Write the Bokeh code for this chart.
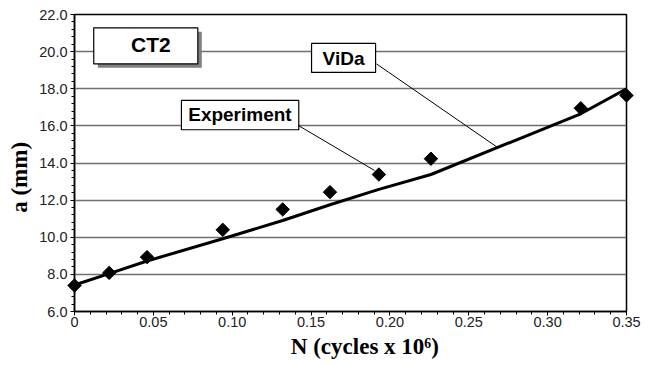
import math
from bokeh.plotting import figure
from bokeh.models import (Range1d, FixedTicker, CustomJSTickFormatter, Label,
                          ColumnDataSource)
from bokeh.embed import file_html
from bokeh.resources import INLINE

# ---- data ----
n_exp = [0.0, 0.022, 0.046, 0.094, 0.132, 0.162, 0.193, 0.226, 0.321, 0.350]
a_exp = [7.40, 8.08, 8.93, 10.40, 11.50, 12.43, 13.38, 14.23, 16.95, 17.64]

n_vida = [0.0, 0.022, 0.046, 0.094, 0.132, 0.162, 0.193, 0.226, 0.321, 0.350]
a_vida = [7.43, 8.04, 8.72, 9.92, 10.90, 11.75, 12.58, 13.38, 16.65, 18.00]

x_ticks = [0.0, 0.05, 0.10, 0.15, 0.20, 0.25, 0.30, 0.35]
y_ticks = [6.0, 8.0, 10.0, 12.0, 14.0, 16.0, 18.0, 20.0, 22.0]

x_title = "N (cycles x 10⁶)"
y_title = "a (mm)"

TICK_FONT = "Liberation Sans"
BOX_FONT = "Liberation Sans"
AXIS_FONT = "Liberation Serif"
NB = "\u00a0"

p = figure(width=657, height=365, output_backend="svg", toolbar_location=None,
           x_range=Range1d(0, 0.35), y_range=Range1d(6, 22),
           min_border_left=74, min_border_right=31, min_border_top=14,
           min_border_bottom=54)
p.background_fill_color = "white"
p.border_fill_color = "white"
p.outline_line_color = "black"
p.outline_line_width = 1.5

# axes
p.xaxis.ticker = FixedTicker(ticks=x_ticks,
                             minor_ticks=[i * 0.01 for i in range(0, 36)])
p.yaxis.ticker = FixedTicker(ticks=y_ticks,
                             minor_ticks=[6 + i * 0.4 for i in range(0, 41)])
p.xaxis.formatter = CustomJSTickFormatter(
    code="return tick == 0 ? '0' : tick.toFixed(2);")
p.yaxis.formatter = CustomJSTickFormatter(code="return tick.toFixed(1);")
for ax in (p.xaxis, p.yaxis):
    ax.axis_line_color = "black"
    ax.axis_line_width = 1.5
    ax.major_tick_line_color = "black"
    ax.minor_tick_line_color = "black"
    ax.major_tick_in = 0
    ax.major_tick_out = 4
    ax.minor_tick_in = 0
    ax.minor_tick_out = 3
    ax.major_label_text_font = TICK_FONT
    ax.major_label_text_font_size = "14.5px"
    ax.major_label_text_color = "#222222"
    ax.axis_label_text_font = AXIS_FONT
    ax.axis_label_text_font_style = "bold"
    ax.axis_label_text_font_size = "23px"
    ax.axis_label_text_color = "black"
p.xaxis.major_label_standoff = 1
p.yaxis.major_label_standoff = 3
p.xaxis.axis_label = NB * 5 + x_title
p.yaxis.axis_label = y_title + NB * 5
p.xaxis.axis_label_standoff = 4
p.yaxis.axis_label_standoff = 4

p.xgrid.visible = False
p.ygrid.ticker = FixedTicker(ticks=y_ticks[1:-1])
p.ygrid.grid_line_color = "#707070"
p.ygrid.grid_line_width = 1.3

# ViDa curve
p.line(n_vida, a_vida, line_color="black", line_width=3)

# experiment points
src = ColumnDataSource(dict(x=n_exp, y=a_exp))
sc = p.scatter("x", "y", source=src, marker="square", angle=math.pi / 4,
               size=9.5, fill_color="black", line_color="black")
sc.level = "overlay"

# CT2 box with shadow
p.quad(left=[0.0148], right=[0.0807], bottom=[19.13], top=[21.07],
       fill_color="#808080", line_color=None)
p.quad(left=[0.0122], right=[0.0782], bottom=[19.34], top=[21.28],
       fill_color="white", line_color="black", line_width=1.2)
p.add_layout(Label(x=0.0484, y=20.39, text="CT2", text_font=BOX_FONT,
                   text_font_style="bold", text_font_size="21px",
                   text_align="center", text_baseline="middle",
                   text_color="black"))

# Experiment callout
p.line([0.1390, 0.1902], [16.17, 13.60], line_color="black", line_width=1)
p.quad(left=[0.0678], right=[0.1422], bottom=[15.79], top=[17.37],
       fill_color="white", line_color="black", line_width=1.2)
p.add_layout(Label(x=0.1049, y=16.62, text="Experiment", text_font=BOX_FONT,
                   text_font_style="bold", text_font_size="19px",
                   text_align="center", text_baseline="middle",
                   text_color="black"))

# ViDa callout
p.line([0.1915, 0.268], [19.34, 14.85], line_color="black", line_width=1)
p.quad(left=[0.1503], right=[0.1909], bottom=[18.88], top=[20.44],
       fill_color="white", line_color="black", line_width=1.2)
p.add_layout(Label(x=0.1706, y=19.64, text="ViDa", text_font=BOX_FONT,
                   text_font_style="bold", text_font_size="19px",
                   text_align="center", text_baseline="middle",
                   text_color="black"))

open("out.html", "w").write(file_html(p, INLINE))
